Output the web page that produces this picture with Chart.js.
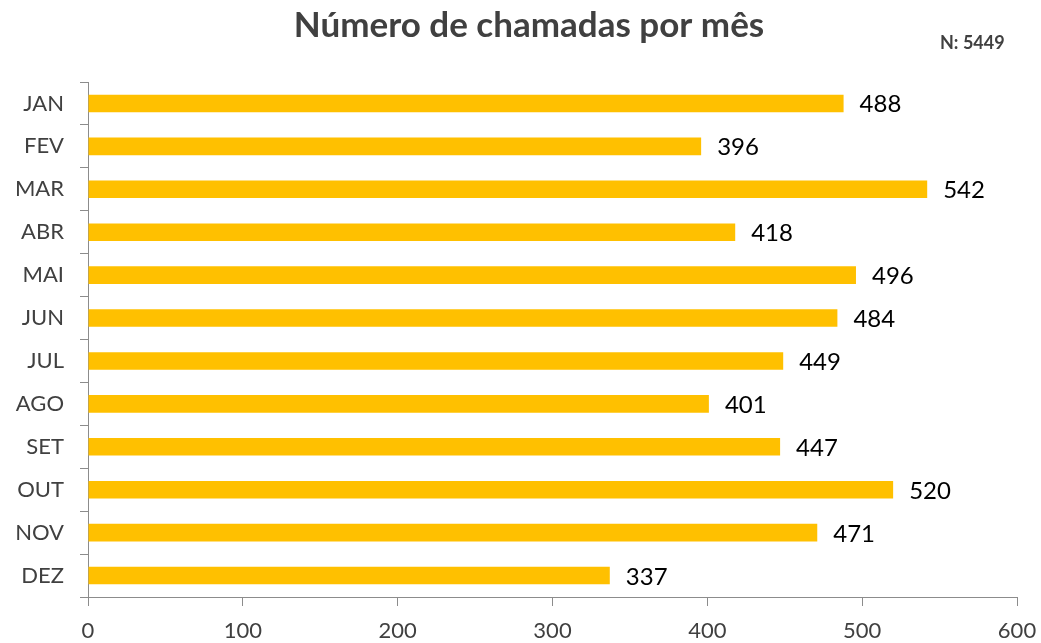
<!DOCTYPE html>
<html lang="pt-BR">
<head>
    <meta charset="UTF-8">
    <title>Número de chamadas por mês</title>
    <script src="https://cdn.jsdelivr.net/npm/chart.js"></script>
    <style>
        html, body { margin: 0; padding: 0; background: #ffffff; }
        #wrap { width: 1041px; height: 643px; }
    </style>
</head>
<body>
    <div id="wrap"><canvas id="chamadasChart" width="1041" height="643"></canvas></div>

    <script>
        // Dados do gráfico
        const meses = ['JAN', 'FEV', 'MAR', 'ABR', 'MAI', 'JUN', 'JUL', 'AGO', 'SET', 'OUT', 'NOV', 'DEZ'];
        const chamadas = [488, 396, 542, 418, 496, 484, 449, 401, 447, 520, 471, 337];
        const titulo = 'Número de chamadas por mês';
        const totalTexto = 'N: 5449';

        const fonte = 'Lato, "Open Sans", sans-serif';
        const corEixo = '#8c8c8c';

        // Plugin simples: título, total e valores ao lado das barras
        const rotulos = {
            id: 'rotulos',
            afterDatasetsDraw(chart) {
                const ctx = chart.ctx;
                ctx.save();
                ctx.fillStyle = '#404040';
                ctx.font = 'bold 35px ' + fonte;
                ctx.textAlign = 'center';
                ctx.textBaseline = 'alphabetic';
                ctx.fillText(titulo, 529, 37);

                ctx.font = 'bold 18px ' + fonte;
                ctx.textAlign = 'left';
                ctx.fillText(totalTexto, 940, 49);

                ctx.fillStyle = '#000000';
                ctx.font = '24px ' + fonte;
                const meta = chart.getDatasetMeta(0);
                meta.data.forEach((bar, i) => {
                    ctx.fillText(String(chamadas[i]), bar.x + 16, bar.y + 9);
                });
                ctx.restore();
            }
        };

        const ctx = document.getElementById('chamadasChart').getContext('2d');
        new Chart(ctx, {
            type: 'bar',
            data: {
                labels: meses,
                datasets: [{
                    data: chamadas,
                    backgroundColor: '#FFC000',
                    borderWidth: 0,
                    barPercentage: 0.82,
                    categoryPercentage: 0.5
                }]
            },
            options: {
                indexAxis: 'y',
                responsive: false,
                animation: false,
                layout: { padding: { top: 82, right: 24, left: 0, bottom: 0 } },
                plugins: {
                    legend: { display: false },
                    tooltip: { enabled: false },
                    title: { display: false }
                },
                scales: {
                    x: {
                        min: 0,
                        max: 600,
                        afterFit: s => { s.height = 46; s.paddingLeft = 0; s.paddingRight = 0; },
                        ticks: {
                            stepSize: 100,
                            padding: 12,
                            color: '#404040',
                            font: { family: fonte, size: 22 }
                        },
                        grid: {
                            drawOnChartArea: false,
                            drawTicks: true,
                            tickLength: 9,
                            color: corEixo
                        },
                        border: { display: true, color: corEixo, width: 1 }
                    },
                    y: {
                        afterFit: s => { s.width = 88; s.paddingTop = 0; s.paddingBottom = 0; },
                        ticks: {
                            padding: 16,
                            color: '#404040',
                            font: { family: fonte, size: 22 }
                        },
                        grid: {
                            offset: true,
                            drawOnChartArea: false,
                            drawTicks: true,
                            tickLength: 8,
                            color: corEixo
                        },
                        border: { display: true, color: corEixo, width: 1 }
                    }
                }
            },
            plugins: [rotulos]
        });
    </script>
</body>
</html>
